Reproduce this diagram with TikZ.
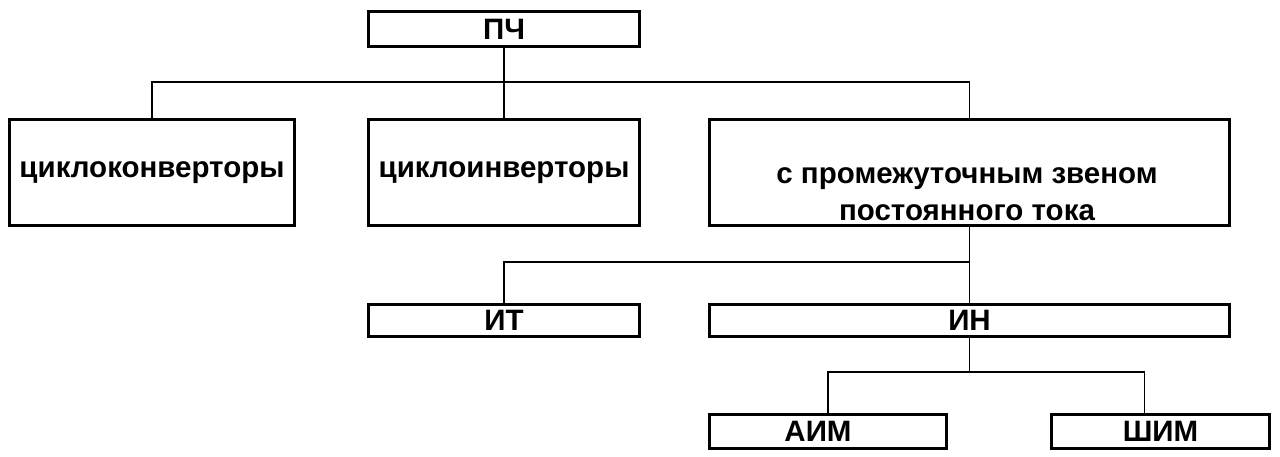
\documentclass[tikz,border=0pt]{standalone}
\usepackage{fontspec}
\setmainfont{Liberation Sans}
\begin{document}
\begin{tikzpicture}[x=1pt,y=-1pt,
  blk/.style={draw,line width=3pt,inner sep=0pt,anchor=north west,font=\bfseries\fontsize{29.5}{35}\selectfont,align=center},
  conn/.style={line width=1.6pt}]
\useasboundingbox (0,0) rectangle (1280,456);
\node[blk,minimum width=271pt,minimum height=35pt] (pch) at (367,10) {ПЧ};
\node[blk,minimum width=285pt,minimum height=106pt] (cc) at (8,118) {циклоконверторы};
\node[blk,minimum width=271pt,minimum height=106pt] (ci) at (367,118) {циклоинверторы};
\node[blk,minimum width=520pt,minimum height=106pt] (pz) at (708,118) {};
\node[font=\bfseries\fontsize{29.5}{37}\selectfont,align=center] (pzt) at (967,194) {с промежуточным звеном\\постоянного тока};
\node[blk,minimum width=271pt,minimum height=32pt] (it) at (367,303) {ИТ};
\node[blk,minimum width=520pt,minimum height=32pt] (in) at (708,303) {ИН};
\node[blk,minimum width=237pt,minimum height=34pt] (aim) at (708,413) {\hspace*{-20pt}АИМ};
\node[blk,minimum width=218pt,minimum height=34pt] (shim) at (1050,413) {ШИМ};
\coordinate (j1) at (pch.south |- 0,82);
\coordinate (j2) at (pz.south |- 0,262);
\coordinate (j3) at (in.south |- 0,372);
\draw[conn] (pch.south) -- (j1);
\draw[conn] (j1) -| (cc.north);
\draw[conn] (j1) -- (ci.north);
\draw[conn] (j1) -| (pz.north);
\draw[conn] (pz.south) -- (j2);
\draw[conn] (j2) -| (it.north);
\draw[conn] (j2) -- (in.north);
\draw[conn] (in.south) -- (j3);
\draw[conn] (j3) -| (aim.north);
\draw[conn] (j3) -| ([xshift=-16pt]shim.north);
\end{tikzpicture}
\end{document}
